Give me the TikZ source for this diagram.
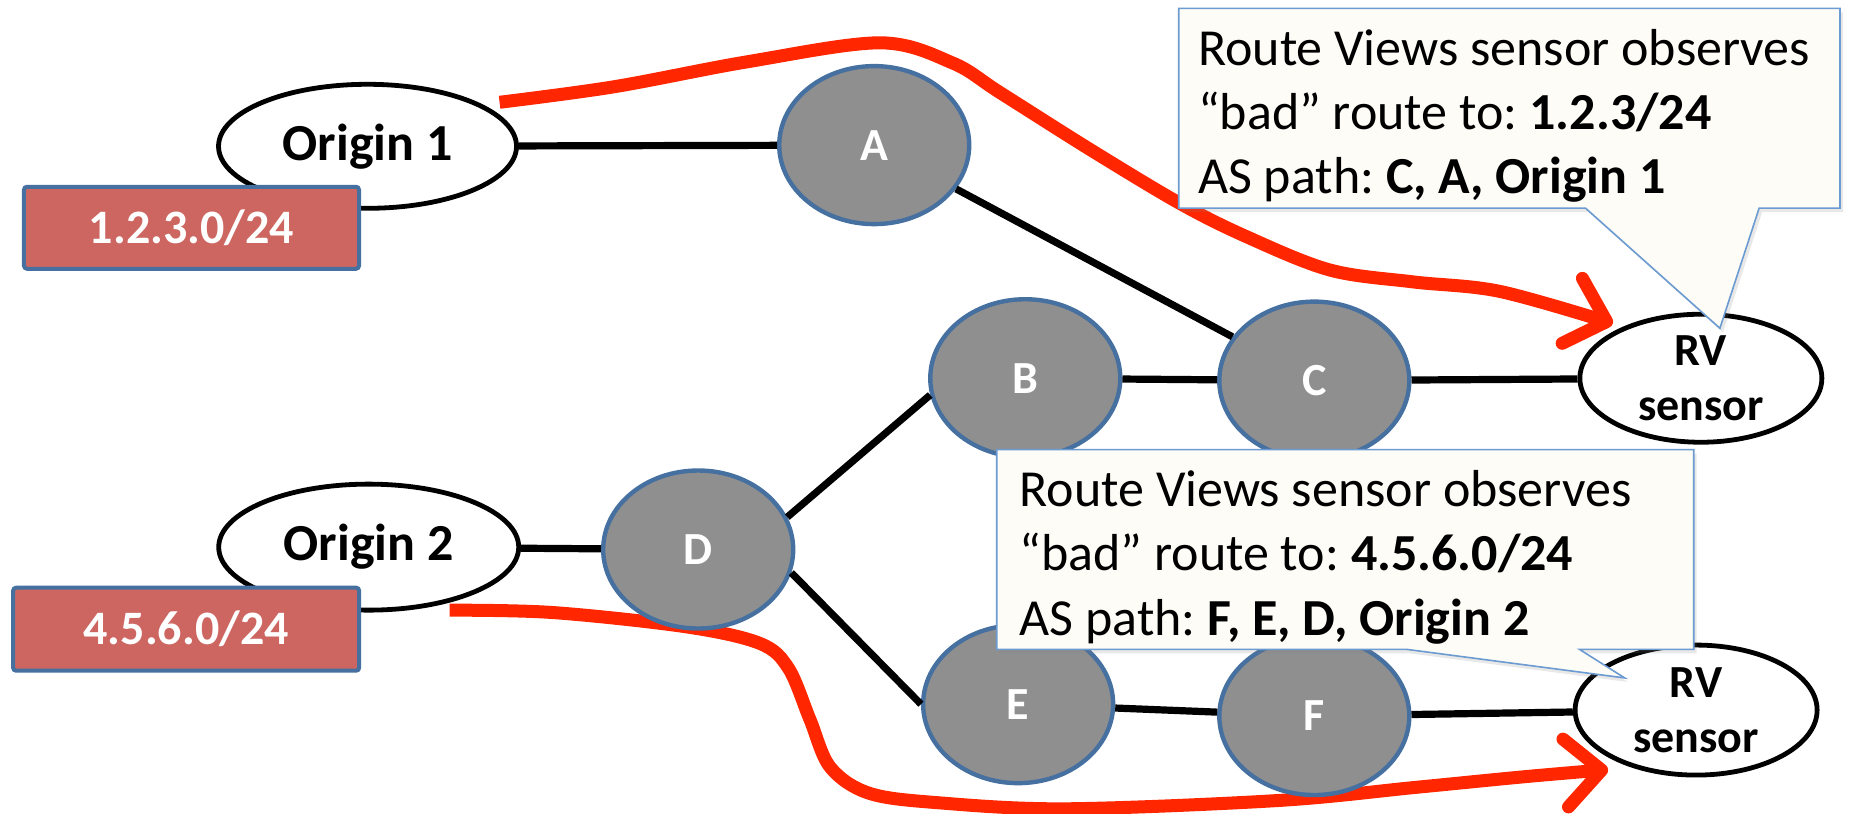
\documentclass[tikz,border=0pt]{standalone}
\usepackage{fontspec}
\setmainfont{Carlito}
\usetikzlibrary{shapes.geometric,arrows.meta,shadows}
\frenchspacing

\definecolor{nodegray}{RGB}{143,143,143}
\definecolor{nodeblue}{RGB}{70,112,160}
\definecolor{prefixred}{RGB}{205,102,96}
\definecolor{routered}{RGB}{255,38,0}
\definecolor{calloutfill}{RGB}{253,252,246}
\definecolor{calloutline}{RGB}{108,155,210}

\tikzset{
  asnode/.style={ellipse, fill=nodegray, draw=nodeblue, line width=2.2pt,
    text=white, font=\fontsize{23}{27}\selectfont\bfseries,
    minimum width=95pt, minimum height=79pt, inner sep=0pt},
  endnode/.style={ellipse, fill=white, draw=black, line width=2.4pt,
    inner sep=0pt, align=center},
  prefixbox/.style={rectangle, rounded corners=1.5pt, fill=prefixred,
    draw=nodeblue, line width=2pt, text=white,
    font=\fontsize{24}{29}\selectfont\bfseries, inner sep=0pt},
  link/.style={line width=3.6pt, draw=black},
  route/.style={line width=6.5pt, draw=routered,
    -{Straight Barb[round, length=18pt, width=34pt]}},
  callout/.style={fill=calloutfill, draw=calloutline, line width=0.8pt,
    drop shadow={opacity=0.18, shadow xshift=1.5pt, shadow yshift=-2pt}},
  callouttext/.style={anchor=base west, inner sep=0pt,
    font=\fontsize{26}{31}\selectfont}
}

\begin{document}
\begin{tikzpicture}[x=0.5947pt, y=-0.5947pt]
\useasboundingbox (0,0) rectangle (1568,684);

% start and end points of the two announced routes
\coordinate (r1s) at (420,86);
\coordinate (r1e) at (1356,272);
\coordinate (r2s) at (378,513);
\coordinate (r2e) at (1352,647);

% routes towards the Route Views sensors (under the AS nodes)
\draw[route] plot[smooth, tension=0.55] coordinates {
  (r1s) (516,73) (628,52) (740,36) (801,53) (841,78) (917,126)
  (992,171) (1048,199) (1118,227) (1188,237) (1261,245) (r1e)};
\draw[route] plot[smooth, tension=0.55] coordinates {
  (r2s) (465,515) (577,527) (639,541) (663,562) (681,605) (698,645)
  (731,667) (790,675) (896,680) (1075,673) (1190,662) (1282,653) (r2e)};

% origin ASes
\node[endnode, minimum width=149pt, minimum height=62pt,
  font=\fontsize{26}{31}\selectfont\bfseries] (o1) at (309,123) {Origin 1};
\node[endnode, minimum width=150pt, minimum height=63pt,
  font=\fontsize{26}{31}\selectfont\bfseries] (o2) at (310,460) {Origin 2};

% transit ASes
\node[asnode] (A) at (735,122) {A};
\node[asnode] (B) at (862,318) {B};
\node[asnode] (C) at (1105,320) {C};
\node[asnode] (D) at (587,462) {D};
\node[asnode] (E) at (856,592) {E};
\node[asnode] (F) at (1105,602) {F};

% Route Views sensors
\node[endnode, minimum width=121pt, minimum height=64pt,
  font=\fontsize{23}{27.5}\selectfont\bfseries] (rv1) at (1430,318) {RV\\sensor};
\node[endnode, minimum width=121pt, minimum height=65pt,
  font=\fontsize{23}{27.5}\selectfont\bfseries] (rv2) at (1426,597) {RV\\sensor};

% AS links
\draw[link] (o1) -- (A);
\draw[link] (A) -- (C);
\draw[link] (B) -- (C);
\draw[link] (C) -- (rv1);
\draw[link] (o2) -- (D);
\draw[link] (D.20) -- (B.190);
\draw[link] (D.-14) -- (E.180);
\draw[link] (E) -- (F);
\draw[link] (F) -- (rv2);

% announced prefixes
\node[prefixbox, minimum width=167.5pt, minimum height=41pt] (p1) at (161,191.5) {1.2.3.0/24};
\node[prefixbox, minimum width=173pt, minimum height=41.5pt] (p2) at (156.5,529) {4.5.6.0/24};

% observation callouts
\path[callout] (991,7) -- (1547,7) -- (1547,175) -- (1479,175) -- (1446,276)
  -- (1333,175) -- (991,175) -- cycle;
\node[callouttext] (t1a) at (1007,55) {Route Views sensor observes};
\node[callouttext] (t1b) at (1007,109) {“bad” route to: \textbf{1.2.3/24}};
\node[callouttext] (t1c) at (1007,163) {AS path: \textbf{C, A, Origin 1}};

\path[callout] (838,378) -- (1424,378) -- (1424,546) -- (1328,546) -- (1366,570)
  -- (1183,546) -- (838,546) -- cycle;
\node[callouttext] (t2a) at (857,426) {Route Views sensor observes};
\node[callouttext] (t2b) at (857,480) {“bad” route to: \textbf{4.5.6.0/24}};
\node[callouttext] (t2c) at (857,534) {AS path: \textbf{F, E, D, Origin 2}};
\end{tikzpicture}
\end{document}
